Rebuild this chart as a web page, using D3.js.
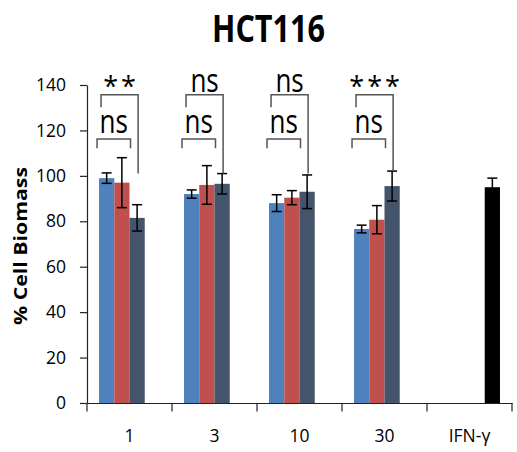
<!DOCTYPE html>
<html>
<head>
<meta charset="utf-8">
<script src="https://cdn.jsdelivr.net/npm/d3@7"></script>
<style>
  body { margin: 0; background: #fff; }
  text { font-family: "Open Sans", sans-serif; fill: #000; }
</style>
</head>
<body>
<div id="chart"></div>
<script>
// categories on the x axis (concentrations + IFN-γ control)
var categories = ["1", "3", "10", "30", "IFN-γ"];

// four series per category, slot 4 only used by IFN-γ
var blueValues = [99, 92, 88, 76.6, null];
var blueErrors = [2.3, 1.8, 3.7, 1.7, null];
var redValues = [97, 96, 90.4, 80.7, null];
var redErrors = [11, 8.5, 3.1, 6.2, null];
var darkValues = [81.5, 96.5, 93, 95.5, null];
var darkErrors = [5.8, 4.5, 7.4, 6.6, null];
var ifnValues = [null, null, null, null, 95];
var ifnErrors = [null, null, null, null, 4];

var yTicks = [0, 20, 40, 60, 80, 100, 120, 140];

// significance comparisons: category, from series, to series, label, level
var comparisons = [
  { cat: "1", a: 0, b: 1, label: "ns", level: 0 },
  { cat: "1", a: 0, b: 2, label: "**", level: 1 },
  { cat: "3", a: 0, b: 1, label: "ns", level: 0 },
  { cat: "3", a: 0, b: 2, label: "ns", level: 1 },
  { cat: "10", a: 0, b: 1, label: "ns", level: 0 },
  { cat: "10", a: 0, b: 2, label: "ns", level: 1 },
  { cat: "30", a: 0, b: 1, label: "ns", level: 0 },
  { cat: "30", a: 0, b: 2, label: "***", level: 1 }
];

var series = [
  { values: blueValues, errors: blueErrors, color: "#4F81BD" },
  { values: redValues, errors: redErrors, color: "#C0504D" },
  { values: darkValues, errors: darkErrors, color: "#44546A" },
  { values: ifnValues, errors: ifnErrors, color: "#000000" }
];

var width = 517, height = 452;

var svg = d3.select("#chart")
  .append("svg")
  .attr("width", width)
  .attr("height", height);

var x = d3.scaleBand()
  .domain(categories)
  .range([87, 512])
  .paddingInner(0)
  .paddingOuter(0);

var xs = d3.scaleBand()
  .domain(d3.range(series.length))
  .range([0, x.bandwidth()])
  .paddingInner(0)
  .paddingOuter(0.79);

var y = d3.scaleLinear()
  .domain([0, 140])
  .range([403, 85]);

// title
svg.append("text")
  .attr("x", 268.5)
  .attr("y", 41.5)
  .attr("text-anchor", "middle")
  .attr("textLength", 113)
  .attr("lengthAdjust", "spacingAndGlyphs")
  .style("font-size", "37px")
  .style("font-weight", "bold")
  .text("HCT116");

// y axis title
svg.append("text")
  .attr("transform", "translate(26.5, 246) rotate(-90)")
  .attr("text-anchor", "middle")
  .attr("textLength", 158)
  .attr("lengthAdjust", "spacingAndGlyphs")
  .style("font-size", "18px")
  .style("font-weight", "bold")
  .text("% Cell Biomass");

// bars
var bars = [];
series.forEach(function(s, si) {
  categories.forEach(function(c, ci) {
    if (s.values[ci] != null) {
      bars.push({ cat: c, si: si, value: s.values[ci], err: s.errors[ci], color: s.color });
    }
  });
});

svg.append("g")
  .selectAll("rect")
  .data(bars)
  .enter()
  .append("rect")
  .attr("x", function(d) { return x(d.cat) + xs(d.si); })
  .attr("y", function(d) { return y(d.value); })
  .attr("width", xs.bandwidth())
  .attr("height", function(d) { return y(0) - y(d.value); })
  .style("fill", function(d) { return d.color; });

// error bars
var eb = svg.append("g")
  .attr("stroke", "#000")
  .attr("stroke-width", 1.5)
  .selectAll("g")
  .data(bars)
  .enter()
  .append("g")
  .attr("transform", function(d) {
    return "translate(" + (x(d.cat) + xs(d.si) + xs.bandwidth() / 2) + ",0)";
  });

eb.append("line")
  .attr("y1", function(d) { return y(d.value + d.err); })
  .attr("y2", function(d) { return y(d.value - d.err); });
eb.append("line")
  .attr("x1", -5).attr("x2", 5)
  .attr("y1", function(d) { return y(d.value + d.err); })
  .attr("y2", function(d) { return y(d.value + d.err); });
eb.append("line")
  .attr("x1", -5).attr("x2", 5)
  .attr("y1", function(d) { return y(d.value - d.err); })
  .attr("y2", function(d) { return y(d.value - d.err); });

// y axis
var yAxis = svg.append("g")
  .attr("transform", "translate(87,0)")
  .call(d3.axisLeft(y).tickValues(yTicks).tickSize(7).tickSizeOuter(0).tickPadding(14));
yAxis.selectAll("text").style("font-size", "17.5px").style("font-family", "Open Sans, sans-serif");
yAxis.selectAll("path, line").attr("stroke", "#222").attr("stroke-width", 1.2);

// x axis: labels at band centres, ticks at band boundaries
var xAxis = svg.append("g")
  .attr("transform", "translate(0,403)")
  .call(d3.axisBottom(x).tickSize(0).tickSizeOuter(0).tickPadding(27));
xAxis.selectAll("text").style("font-size", "17.5px").style("font-family", "Open Sans, sans-serif");
xAxis.select("path").attr("stroke", "#222").attr("stroke-width", 1.2);

var edges = categories.map(function(c) { return x(c); }).concat([x.range()[1]]);
xAxis.selectAll(".edge")
  .data(edges)
  .enter()
  .append("line")
  .attr("class", "edge")
  .attr("x1", function(d) { return d; })
  .attr("x2", function(d) { return d; })
  .attr("y1", 0)
  .attr("y2", 8.5)
  .attr("stroke", "#222")
  .attr("stroke-width", 1.2);

// significance brackets
function errTop(cat, si) {
  var i = categories.indexOf(cat);
  return series[si].values[i] + series[si].errors[i];
}

var br = svg.append("g").selectAll("g")
  .data(comparisons)
  .enter()
  .append("g");

br.append("path")
  .attr("fill", "none")
  .attr("stroke", "#555")
  .attr("stroke-width", 1.5)
  .attr("d", function(d) {
    var x0 = x(d.cat) + xs(d.a);
    var x1 = x(d.cat) + xs(d.b);
    if (d.level === 0) {
      var l = x0 - 2, r = x1 + xs.bandwidth() + 1;
      return "M" + l + "," + y(112.2) + "V" + y(116.2) + "H" + r + "V" + y(112.2);
    }
    var l2 = x0 + 2, r2 = x1 + xs.bandwidth() / 2 + 1;
    var bottom = Math.max(errTop(d.cat, d.b), 101);
    return "M" + l2 + "," + y(130.2) + "V" + y(135.7) + "H" + r2 + "V" + y(bottom);
  });

br.append("text")
  .attr("text-anchor", "middle")
  .attr("transform", function(d) {
    var x0 = x(d.cat) + xs(d.a);
    var x1 = x(d.cat) + xs(d.b);
    var cx, by, sy = 1.25;
    if (d.level === 0) {
      cx = (x0 - 2 + x1 + xs.bandwidth() + 1) / 2;
      by = y(116.2) - 6;
    } else {
      cx = (x0 + 2 + x1 + xs.bandwidth() / 2 + 1) / 2;
      by = y(135.7) - 2.5;
      if (d.label !== "ns") { cx += 1.5; by = y(135.7) + 1; sy = 1; }
    }
    return "translate(" + cx + "," + by + ") scale(1," + sy + ")";
  })
  .style("font-size", function(d) { return d.label === "ns" ? "26px" : "27px"; })
  .attr("letter-spacing", function(d) { return d.label === "ns" ? 0 : 3; })
  .text(function(d) { return d.label; });
</script>
</body>
</html>
